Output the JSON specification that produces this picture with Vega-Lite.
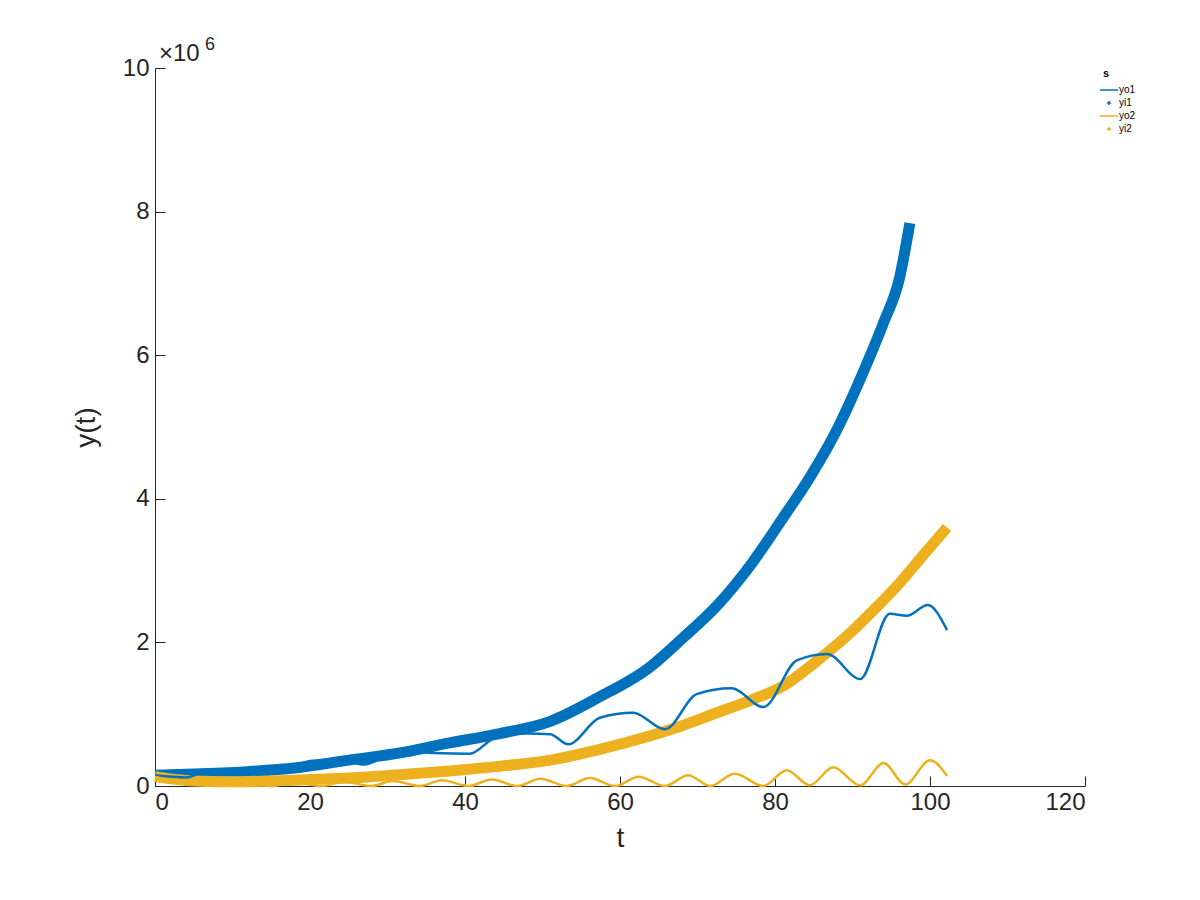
{
"$schema":"https://vega.github.io/schema/vega-lite/v6.json",
"width":930,"height":718,
"autosize":{"type":"none"},
"padding":{"left":155,"top":68,"right":115,"bottom":114},
"background":"white",
"config":{"view":{"stroke":null},"font":"Liberation Sans"},
"datasets":{
"yo1":[{"t":0,"v":0.15},{"t":4,"v":0.12},{"t":7,"v":0.22},{"t":12,"v":0.22},{"t":16,"v":0.2},{"t":20,"v":0.35},{"t":24,"v":0.37},{"t":27,"v":0.3},{"t":31.6,"v":0.49},{"t":36,"v":0.46},{"t":40.6,"v":0.45},{"t":44,"v":0.68},{"t":48,"v":0.73},{"t":51,"v":0.72},{"t":53.3,"v":0.58},{"t":57.4,"v":0.95},{"t":61.7,"v":1.02},{"t":65.8,"v":0.79},{"t":69.9,"v":1.28},{"t":74.4,"v":1.36},{"t":78.5,"v":1.1},{"t":82.8,"v":1.75},{"t":86.7,"v":1.84},{"t":91,"v":1.49},{"t":94.8,"v":2.4},{"t":97,"v":2.37},{"t":99.7,"v":2.52},{"t":102.2,"v":2.17}],
"yi1":[{"t":0,"v":0.15},{"t":6,"v":0.17},{"t":12,"v":0.2},{"t":18,"v":0.25},{"t":25,"v":0.36},{"t":31,"v":0.45},{"t":38,"v":0.6},{"t":44,"v":0.72},{"t":51,"v":0.9},{"t":57,"v":1.22},{"t":63.9,"v":1.66},{"t":68,"v":2.05},{"t":72.5,"v":2.51},{"t":77,"v":3.1},{"t":81,"v":3.73},{"t":84.5,"v":4.3},{"t":87.5,"v":4.86},{"t":91.8,"v":5.87},{"t":94,"v":6.45},{"t":96.1,"v":7.09},{"t":97.4,"v":7.84}],
"yo2":[{"t":0,"v":0.13},{"t":3,"v":0.06},{"t":6,"v":0.01},{"t":8,"v":0.0},{"t":11.7,"v":0.05},{"t":15,"v":0.0},{"t":18,"v":0.05},{"t":21.5,"v":0.0},{"t":24.4,"v":0.06},{"t":27.9,"v":0.0},{"t":30.7,"v":0.07},{"t":34.2,"v":0.0},{"t":37,"v":0.08},{"t":40.5,"v":0.0},{"t":43.4,"v":0.09},{"t":46.8,"v":0.0},{"t":49.7,"v":0.1},{"t":53.1,"v":0.0},{"t":56.1,"v":0.11},{"t":59.4,"v":0.0},{"t":62.4,"v":0.13},{"t":65.8,"v":0.0},{"t":68.8,"v":0.15},{"t":71.6,"v":0.0},{"t":74.8,"v":0.17},{"t":78.5,"v":0.0},{"t":81.5,"v":0.22},{"t":84.5,"v":0.01},{"t":87.5,"v":0.26},{"t":91,"v":0.01},{"t":94,"v":0.32},{"t":96.8,"v":0.02},{"t":100,"v":0.36},{"t":102.2,"v":0.14}],
"yi2":[{"t":0,"v":0.13},{"t":5,"v":0.07},{"t":10,"v":0.06},{"t":18,"v":0.08},{"t":25,"v":0.11},{"t":32,"v":0.16},{"t":38,"v":0.21},{"t":44,"v":0.27},{"t":51,"v":0.36},{"t":57,"v":0.5},{"t":63.9,"v":0.7},{"t":68,"v":0.84},{"t":72.5,"v":1.02},{"t":77,"v":1.2},{"t":81,"v":1.39},{"t":85.5,"v":1.75},{"t":89.7,"v":2.13},{"t":93,"v":2.48},{"t":96.1,"v":2.83},{"t":99,"v":3.2},{"t":102.2,"v":3.6}]
},
"layer":[
{"data":{"name":"yi1"},"mark":{"type":"line","strokeWidth":11,"color":"#0072BD","interpolate":"monotone"},"encoding":{"x":{"field":"t","type":"quantitative"},"y":{"field":"v","type":"quantitative"}}},
{"data":{"name":"yi2"},"mark":{"type":"line","strokeWidth":11,"color":"#EDB120","interpolate":"monotone"},"encoding":{"x":{"field":"t","type":"quantitative"},"y":{"field":"v","type":"quantitative"}}},
{"data":{"name":"yo1"},"mark":{"type":"line","strokeWidth":2.5,"color":"#0072BD","interpolate":"monotone"},"encoding":{"x":{"field":"t","type":"quantitative"},"y":{"field":"v","type":"quantitative"}}},
{"data":{"name":"yo2"},"mark":{"type":"line","strokeWidth":2.5,"color":"#EDB120","interpolate":"monotone"},"encoding":{"x":{"field":"t","type":"quantitative"},"y":{"field":"v","type":"quantitative"}}},
{"data":{"values":[{"s":"yo1","t":0,"v":0},{"s":"yi1","t":0,"v":0},{"s":"yo2","t":0,"v":0},{"s":"yi2","t":0,"v":0}]},
 "mark":{"type":"point","filled":false,"opacity":0},
 "encoding":{"x":{"field":"t","type":"quantitative","scale":{"domain":[0,120]},
   "axis":{"values":[0,20,40,60,80,100,120],"format":"d","title":"t","grid":false,"tickSize":-10,"domainColor":"#262626","tickColor":"#262626","labelColor":"#262626","labelFontSize":24,"titleFontSize":28,"titleFontWeight":"normal","titleColor":"#262626","labelPadding":14,"titlePadding":10}},
  "y":{"field":"v","type":"quantitative","scale":{"domain":[0,10]},
   "axis":{"values":[0,2,4,6,8,10],"format":"d","title":"y(t)","grid":false,"tickSize":-10,"domainColor":"#262626","tickColor":"#262626","labelColor":"#262626","labelFontSize":24,"titleFontSize":28,"titleFontWeight":"normal","titleColor":"#262626","labelPadding":16,"titlePadding":22}},
  "color":{"field":"s","type":"nominal","scale":{"domain":["yo1","yi1","yo2","yi2"],"range":["#0072BD","#0072BD","#EDB120","#EDB120"]},
   "legend":{"title":null,"orient":"none","legendX":755,"legendY":74,"labelFontSize":23,"labelColor":"#000","symbolSize":300,"symbolOpacity":1,"symbolStrokeWidth":3.5,"rowPadding":9,"padding":8,"strokeColor":"#262626","fillColor":"white","labelOffset":6,"symbolOffset":0}},
  "shape":{"field":"s","type":"nominal","scale":{"domain":["yo1","yi1","yo2","yi2"],"range":["M-1.8,0H1.8","M-0.4,0H0.4M0,-0.4V0.4","M-1.8,0H1.8","M-0.4,0H0.4M0,-0.4V0.4"]}},
  "stroke":{"field":"s","type":"nominal","scale":{"domain":["yo1","yi1","yo2","yi2"],"range":["#0072BD","#0072BD","#EDB120","#EDB120"]}}
 }},
{"data":{"values":[{"t":0,"v":10,"lab":"×10"}]},"mark":{"type":"text","align":"left","baseline":"bottom","dx":4,"dy":-2,"fontSize":24,"color":"#262626"},"encoding":{"x":{"field":"t","type":"quantitative"},"y":{"field":"v","type":"quantitative"},"text":{"field":"lab"}}},
{"data":{"values":[{"t":0,"v":10,"lab":"6"}]},"mark":{"type":"text","align":"left","baseline":"bottom","dx":50,"dy":-14,"fontSize":18,"color":"#262626"},"encoding":{"x":{"field":"t","type":"quantitative"},"y":{"field":"v","type":"quantitative"},"text":{"field":"lab"}}}
]
}
